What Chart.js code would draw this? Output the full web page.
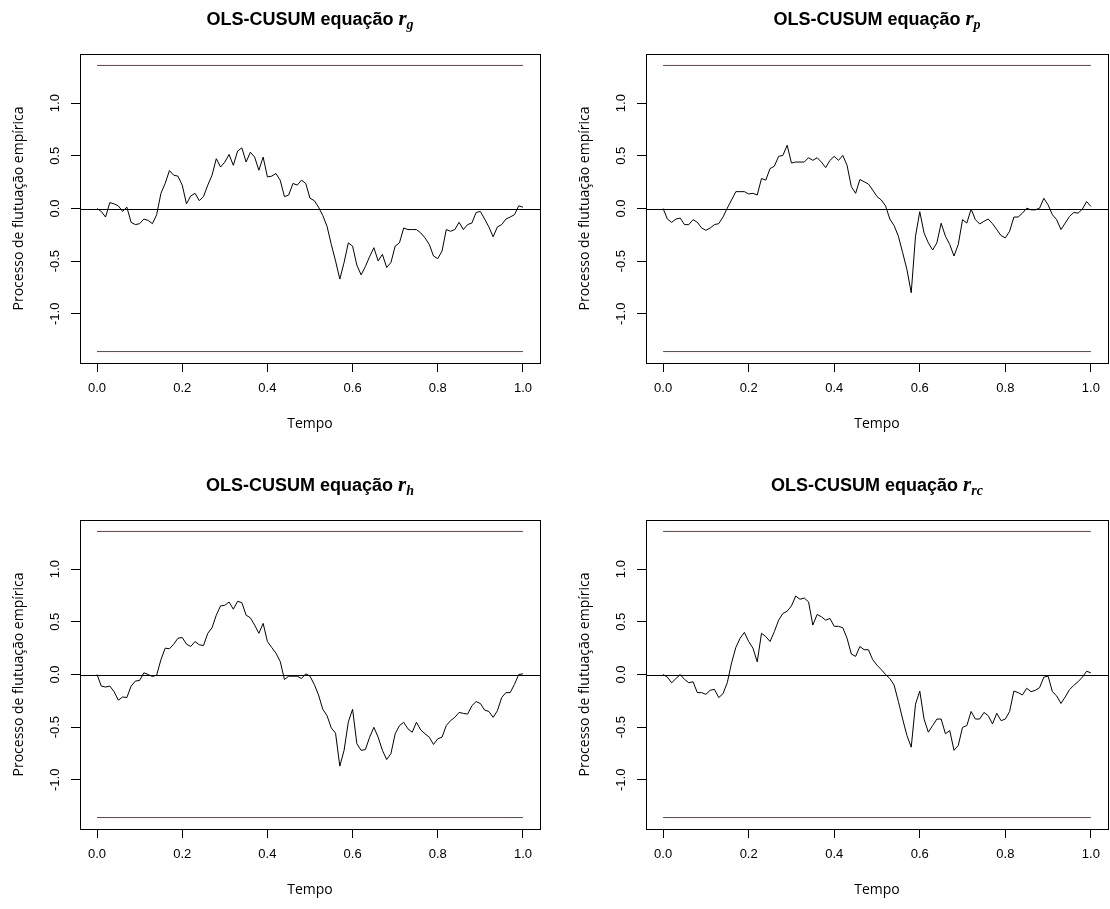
<!DOCTYPE html>
<html>
<head>
<meta charset="utf-8">
<script src="https://cdn.jsdelivr.net/npm/chart.js@4.4.1/dist/chart.umd.min.js"></script>
<style>
  body { margin: 0; background: #fff; width: 1110px; height: 909px; position: relative; overflow: hidden; }
  .panel { position: absolute; }
  .panel canvas { position: absolute; left: 0; top: 0; }
  .ttl { position: absolute; top: 6px; text-align: center; white-space: nowrap; color: #000;
         font: bold 18px "Liberation Sans", Arial, sans-serif; }
  .ttl i { font-family: "Liberation Serif", serif; font-size: 21px; font-weight: bold; }
  .ttl sub { font-size: 14px; vertical-align: -4px; font-style: italic; font-family: "Liberation Serif", serif; }
</style>
</head>
<body>
<script>
// tick labels
const timeTicks = [0, 0.2, 0.4, 0.6, 0.8, 1.0];
const fluxTicks = [-1.0, -0.5, 0.0, 0.5, 1.0];
const boundary = 1.358;

const cusumRg = [
  0, -0.028, -0.081, 0.056, 0.044, 0.025, -0.028, 0.013, -0.131, -0.153,
  -0.144, -0.100, -0.113, -0.144, -0.059, 0.144, 0.238, 0.360, 0.316, 0.307,
  0.222, 0.044, 0.119, 0.144, 0.075, 0.113, 0.222, 0.316, 0.473, 0.394,
  0.441, 0.513, 0.410, 0.545, 0.576, 0.441, 0.535, 0.488, 0.363, 0.488,
  0.300, 0.307, 0.332, 0.269, 0.113, 0.128, 0.238, 0.222, 0.269, 0.238,
  0.097, 0.075, 0.013, -0.066, -0.169, -0.341, -0.498, -0.670, -0.513, -0.326,
  -0.357, -0.538, -0.630, -0.551, -0.457, -0.372, -0.498, -0.435, -0.560, -0.513,
  -0.357, -0.326, -0.185, -0.200, -0.200, -0.200, -0.232, -0.279, -0.341, -0.451,
  -0.476, -0.404, -0.200, -0.216, -0.200, -0.131, -0.200, -0.153, -0.138, -0.038,
  -0.028, -0.100, -0.175, -0.269, -0.175, -0.153, -0.100, -0.081, -0.059, 0.025,
  0.013
];
const cusumRp = [
  0, -0.100, -0.131, -0.100, -0.091, -0.153, -0.153, -0.106, -0.131, -0.185,
  -0.207, -0.185, -0.153, -0.144, -0.081, 0.003, 0.081, 0.160, 0.160, 0.160,
  0.138, 0.144, 0.128, 0.285, 0.269, 0.379, 0.401, 0.495, 0.504, 0.600,
  0.432, 0.441, 0.441, 0.441, 0.482, 0.457, 0.482, 0.441, 0.388, 0.457,
  0.495, 0.457, 0.504, 0.410, 0.207, 0.144, 0.275, 0.254, 0.232, 0.175,
  0.113, 0.081, 0.025, -0.100, -0.163, -0.263, -0.419, -0.580, -0.800, -0.263,
  -0.030, -0.232, -0.326, -0.394, -0.326, -0.140, -0.263, -0.341, -0.451, -0.341,
  -0.106, -0.138, -0.006, -0.106, -0.147, -0.122, -0.100, -0.144, -0.200, -0.257,
  -0.279, -0.216, -0.081, -0.081, -0.044, 0.003, -0.013, -0.013, 0.003, 0.097,
  0.034, -0.059, -0.106, -0.200, -0.138, -0.075, -0.038, -0.044, -0.006, 0.066,
  0.019
];
const cusumRh = [
  0, -0.110, -0.119, -0.110, -0.163, -0.244, -0.213, -0.219, -0.110, -0.063,
  -0.056, 0.016, 0.000, -0.019, -0.006, 0.141, 0.250, 0.244, 0.288, 0.344,
  0.351, 0.288, 0.266, 0.313, 0.282, 0.275, 0.391, 0.444, 0.563, 0.651,
  0.657, 0.688, 0.620, 0.695, 0.682, 0.563, 0.538, 0.469, 0.391, 0.485,
  0.313, 0.257, 0.203, 0.125, -0.047, -0.016, -0.016, -0.016, -0.038, 0.006,
  -0.016, -0.094, -0.194, -0.329, -0.391, -0.507, -0.557, -0.870, -0.720, -0.450,
  -0.330, -0.657, -0.720, -0.713, -0.595, -0.501, -0.595, -0.720, -0.807, -0.751,
  -0.563, -0.485, -0.454, -0.516, -0.548, -0.454, -0.526, -0.563, -0.595, -0.664,
  -0.610, -0.595, -0.485, -0.438, -0.407, -0.360, -0.369, -0.376, -0.297, -0.257,
  -0.275, -0.338, -0.351, -0.407, -0.344, -0.219, -0.172, -0.172, -0.094, 0.000,
  0.006
];
const cusumRrc = [
  0, -0.025, -0.078, -0.038, 0.000, -0.047, -0.078, -0.069, -0.172, -0.172,
  -0.188, -0.150, -0.141, -0.219, -0.182, -0.078, 0.110, 0.257, 0.344, 0.400,
  0.313, 0.250, 0.120, 0.391, 0.360, 0.313, 0.407, 0.516, 0.579, 0.601,
  0.651, 0.745, 0.714, 0.726, 0.689, 0.469, 0.570, 0.548, 0.516, 0.532,
  0.457, 0.457, 0.444, 0.344, 0.194, 0.172, 0.266, 0.235, 0.235, 0.141,
  0.088, 0.047, 0.000, -0.038, -0.100, -0.257, -0.423, -0.580, -0.690, -0.282,
  -0.157, -0.423, -0.548, -0.485, -0.423, -0.423, -0.563, -0.532, -0.720, -0.673,
  -0.501, -0.485, -0.351, -0.423, -0.423, -0.360, -0.391, -0.469, -0.369, -0.438,
  -0.423, -0.351, -0.157, -0.172, -0.194, -0.131, -0.163, -0.150, -0.125, -0.025,
  -0.016, -0.163, -0.203, -0.275, -0.213, -0.144, -0.103, -0.069, -0.025, 0.031,
  0.016
];

const panels = [
  { values: cusumRg,  sub: "g",  left: 0,   top: 0,   width: 555, padRight: 15 },
  { values: cusumRp,  sub: "p",  left: 566, top: 0,   width: 544, padRight: 2 },
  { values: cusumRh,  sub: "h",  left: 0,   top: 466, width: 555, padRight: 15 },
  { values: cusumRrc, sub: "rc", left: 566, top: 466, width: 544, padRight: 2 },
];

const H = 443;
const BOX_LEFT = 80, BOX_TOP = 54, X_AXIS_H = 80;
const yLim = boundary * 1.08;   // R's 4% axis extension
const labelFont = '13px "Liberation Sans", Arial, sans-serif';

// box, zero line and rotated y labels in R style
const rFrame = {
  id: "rFrame",
  beforeDatasetsDraw(chart) {
    const { ctx, chartArea: a, scales: { y } } = chart;
    const y0 = Math.round(y.getPixelForValue(0)) + 0.5;
    ctx.save();
    ctx.strokeStyle = "#000";
    ctx.lineWidth = 1;
    ctx.beginPath();
    ctx.moveTo(a.left, y0);
    ctx.lineTo(a.right, y0);
    ctx.stroke();
    ctx.restore();
  },
  afterDraw(chart) {
    const { ctx, chartArea: a, scales: { y } } = chart;
    ctx.save();
    ctx.strokeStyle = "#000";
    ctx.lineWidth = 1;
    ctx.strokeRect(Math.round(a.left) + 0.5, Math.round(a.top) + 0.5,
                   Math.round(a.right - a.left), Math.round(a.bottom - a.top));
    ctx.fillStyle = "#000";
    ctx.font = labelFont;
    ctx.textAlign = "center";
    ctx.textBaseline = "middle";
    y.ticks.forEach(t => {
      ctx.save();
      ctx.translate(a.left - 25, y.getPixelForValue(t.value));
      ctx.rotate(-Math.PI / 2);
      ctx.fillText(t.value.toFixed(1), 0, 0);
      ctx.restore();
    });
    ctx.restore();
  }
};

panels.forEach((p, idx) => {
  const wrap = document.createElement("div");
  wrap.className = "panel";
  wrap.style.left = p.left + "px";
  wrap.style.top = p.top + "px";
  wrap.style.width = p.width + "px";
  wrap.style.height = H + "px";

  const canvas = document.createElement("canvas");
  canvas.width = p.width;
  canvas.height = H;
  canvas.id = "cusum" + idx;
  wrap.appendChild(canvas);

  const ttl = document.createElement("div");
  ttl.className = "ttl";
  ttl.style.left = BOX_LEFT + "px";
  ttl.style.width = (p.width - p.padRight - BOX_LEFT) + "px";
  ttl.innerHTML = "OLS-CUSUM equação <i>r</i><sub>" + p.sub + "</sub>";
  wrap.appendChild(ttl);
  document.body.appendChild(wrap);

  const n = p.values.length;
  const process = p.values.map((v, i) => ({ x: i / (n - 1), y: v }));

  new Chart(canvas, {
    type: "line",
    data: {
      datasets: [
        { data: process, borderColor: "#000", borderWidth: 1, pointRadius: 0, tension: 0 },
        { data: [{ x: 0, y: boundary }, { x: 1, y: boundary }], borderColor: "#ff0000", borderWidth: 1, pointRadius: 0 },
        { data: [{ x: 0, y: -boundary }, { x: 1, y: -boundary }], borderColor: "#ff0000", borderWidth: 1, pointRadius: 0 },
      ]
    },
    options: {
      responsive: false,
      animation: false,
      events: [],
      layout: { padding: { left: 0, top: BOX_TOP, right: p.padRight, bottom: 0 } },
      plugins: { legend: { display: false }, tooltip: { enabled: false } },
      scales: {
        x: {
          type: "linear", min: -0.04, max: 1.04,
          afterBuildTicks: s => { s.ticks = timeTicks.map(v => ({ value: v })); },
          afterFit: s => { s.height = X_AXIS_H; },
          grid: { drawOnChartArea: false, drawTicks: true, tickLength: 9, color: "#000", lineWidth: 1 },
          border: { display: false },
          ticks: {
            color: "#000", padding: 9, maxRotation: 0, autoSkip: false,
            font: { family: '"Liberation Sans", Arial, sans-serif', size: 13 },
            callback: v => v.toFixed(1)
          },
          title: {
            display: true, text: "Tempo", color: "#000",
            font: { family: '"Open Sans", sans-serif', size: 14 },
            padding: { top: 0, bottom: 11 }
          }
        },
        y: {
          type: "linear", min: -yLim, max: yLim,
          afterBuildTicks: s => { s.ticks = fluxTicks.map(v => ({ value: v })); },
          afterFit: s => { s.width = BOX_LEFT; },
          grid: { drawOnChartArea: false, drawTicks: true, tickLength: 9, color: "#000", lineWidth: 1 },
          border: { display: false },
          ticks: { display: false },
          title: {
            display: true, text: "Processo de flutuação empírica", color: "#000",
            font: { family: '"Open Sans", sans-serif', size: 14 },
            padding: { top: 11, bottom: 0 }
          }
        }
      }
    },
    plugins: [rFrame]
  });
});
</script>
</body>
</html>
